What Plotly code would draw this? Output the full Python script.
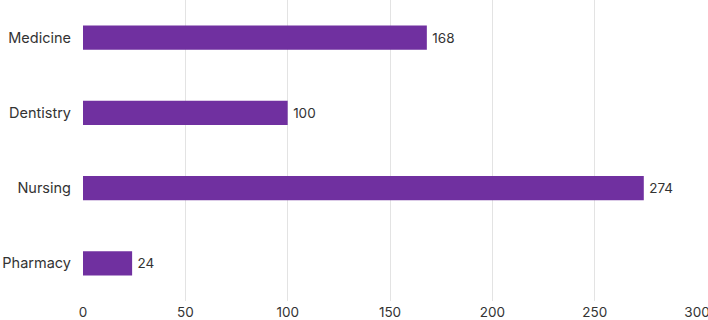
import plotly.graph_objects as go

categories = ["Medicine", "Dentistry", "Nursing", "Pharmacy"]
values = [168, 100, 274, 24]
tick_vals = [0, 50, 100, 150, 200, 250, 300]

fig = go.Figure(go.Bar(
    y=categories, x=values, orientation="h",
    marker=dict(color="#7030a0", line=dict(width=0)),
    text=["\u2009" + str(v) for v in values], textposition="outside",
    textfont=dict(size=13.5, color="#333333"),
    cliponaxis=False,
))
fig.update_layout(
    width=708, height=320,
    margin=dict(l=83, r=11, t=0, b=19, autoexpand=False),
    paper_bgcolor="white", plot_bgcolor="white",
    font=dict(family="Inter, Open Sans, sans-serif", size=14.5, color="#333333"),
    bargap=0.68,
    showlegend=False,
    xaxis=dict(range=[0, 300], tickvals=tick_vals, showgrid=True, gridcolor="#e3e3e3",
               gridwidth=1, zeroline=False, showline=False, ticks="", automargin=False,
               ticklabelstandoff=1, tickfont=dict(size=13.5), ticklabeloverflow="allow"),
    yaxis=dict(categoryorder="array", categoryarray=categories[::-1], showgrid=False,
               zeroline=False, showline=False, ticks="", automargin=False,
               ticklabelstandoff=11),
)
fig.write_html("out.html", config={"displayModeBar": False},
               post_script="document.body.style.margin='0';document.body.style.overflow='hidden';")
